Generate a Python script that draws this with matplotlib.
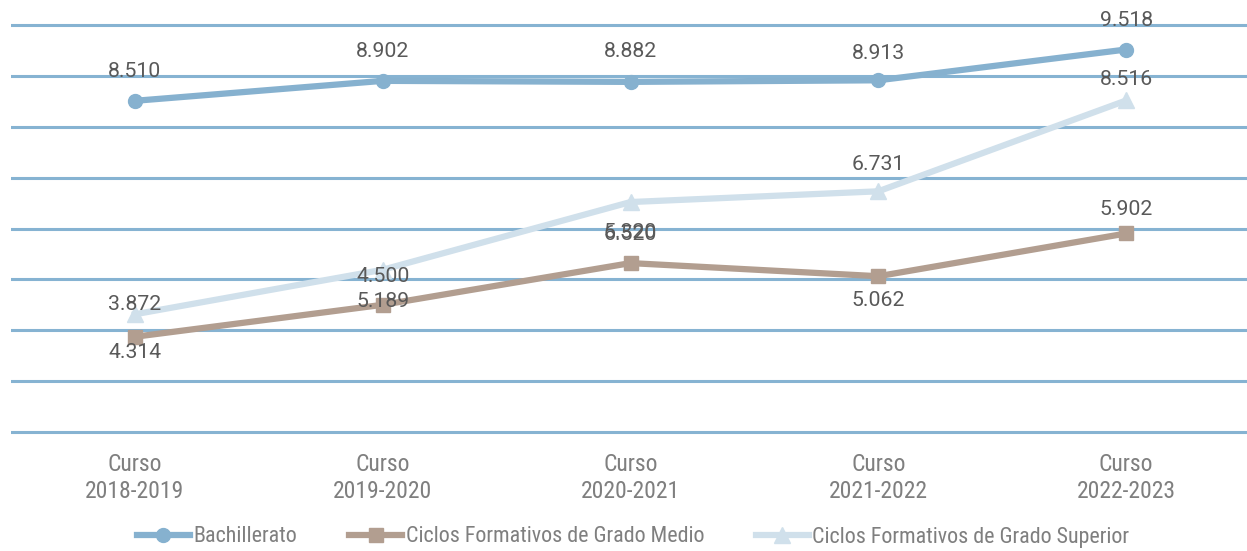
import matplotlib
matplotlib.use("Agg")
import matplotlib.pyplot as plt
from matplotlib import font_manager as fm
import os

cursos = ["Curso\n2018-2019", "Curso\n2019-2020", "Curso\n2020-2021", "Curso\n2021-2022", "Curso\n2022-2023"]
bachillerato = [8.510, 8.902, 8.882, 8.913, 9.518]
grado_medio = [3.872, 4.500, 5.320, 5.062, 5.902]
grado_superior = [4.314, 5.189, 6.520, 6.731, 8.516]

labels_bach = ["8.510", "8.902", "8.882", "8.913", "9.518"]
labels_medio = ["4.314", "5.189", "5.320", "5.062", "5.902"]
labels_sup = ["3.872", "4.500", "6.520", "6.731", "8.516"]

series_names = ["Bachillerato", "Ciclos Formativos de Grado Medio", "Ciclos Formativos de Grado Superior"]

# label offsets in pixels (layout only)
off_bach = [29, 29, 30, 27, 29]
off_medio = [-16, 3, 31, -24, 24]
off_sup = [10, -7, -32, 27, 21]

# find a condensed font file if any
cond_file = None
prefs = ["liberationsansnarrow-regular", "robotocondensed-regular", "roboto_condensed-regular",
         "dejavusanscondensed.", "opensans_condensed-regular", "opensanscondensed-regular",
         "notosans-condensed.", "notosanscondensed-regular"]
files = fm.findSystemFonts() + [f.fname for f in fm.fontManager.ttflist]
low = {os.path.basename(f).lower(): f for f in files}
for p in prefs:
    hit = [low[k] for k in low if k.startswith(p)]
    if hit:
        cond_file = hit[0]
        break

if cond_file:
    tick_fp = fm.FontProperties(fname=cond_file, size=17)
    leg_fp = fm.FontProperties(fname=cond_file, size=15.8)
else:
    tick_fp = fm.FontProperties(family="Liberation Sans", size=14)
    leg_fp = fm.FontProperties(family="Liberation Sans", size=13)

names = {f.name for f in fm.fontManager.ttflist}
label_font = "Roboto" if "Roboto" in names else "DejaVu Sans"

W, H = 1247, 551
fig = plt.figure(figsize=(W / 100, H / 100), dpi=100)
ppu = 407 / 8.0
ylo, yhi = 1.9, 10.1
ax_bottom_px = 432 + (2 - ylo) * ppu
ax_top_px = 25 - (yhi - 10) * ppu
ax = fig.add_axes([11 / W, (H - ax_bottom_px) / H, 1239 / W, (ax_bottom_px - ax_top_px) / H])

c_bach = "#86b1cf"
c_medio = "#b29e90"
c_sup = "#d0e0eb"
c_grid = "#86b3d2"

x = list(range(len(cursos)))
ax.set_xlim(-0.5, 4.5)
ax.set_ylim(ylo, yhi)
ax.set_yticks(range(2, 11))
ax.yaxis.grid(True, color=c_grid, linewidth=2.2)
ax.set_axisbelow(True)
for s in ax.spines.values():
    s.set_visible(False)
ax.tick_params(axis="y", left=False, labelleft=False)
ax.tick_params(axis="x", bottom=False, pad=8)
ax.set_xticks(x)
ax.set_xticklabels(cursos, color="#7f7f7f", fontproperties=tick_fp, linespacing=1.2)

l1, = ax.plot(x, bachillerato, color=c_bach, lw=4.5, marker="o", ms=10, zorder=5, clip_on=False, label=series_names[0])
l2, = ax.plot(x, grado_medio, color=c_medio, lw=4.5, marker="s", ms=10, zorder=3, clip_on=False, label=series_names[1])
l3, = ax.plot(x, grado_superior, color=c_sup, lw=4.5, marker="^", ms=11, zorder=4, clip_on=False, label=series_names[2])

def put_labels(vals, labs, offs):
    for xi, v, t, o in zip(x, vals, labs, offs):
        ax.annotate(t, (xi, v), xytext=(0, o * 0.72), textcoords="offset points",
                    ha="center", va="center", fontsize=15.3, color="#595959",
                    family=[label_font, "DejaVu Sans"], zorder=10, annotation_clip=False)

put_labels(bachillerato, labels_bach, off_bach)
put_labels(grado_medio, labels_medio, off_medio)
put_labels(grado_superior, labels_sup, off_sup)

fig.legend(handles=[l1, l2, l3], loc="center", bbox_to_anchor=(633 / W, 1 - 537 / H), ncol=3,
           frameon=False, prop=leg_fp,
           labelcolor="#7f7f7f", handlelength=2.45, handletextpad=0.14, columnspacing=2.35,
           markerscale=1.0)

fig.savefig("out.png", dpi=100)
